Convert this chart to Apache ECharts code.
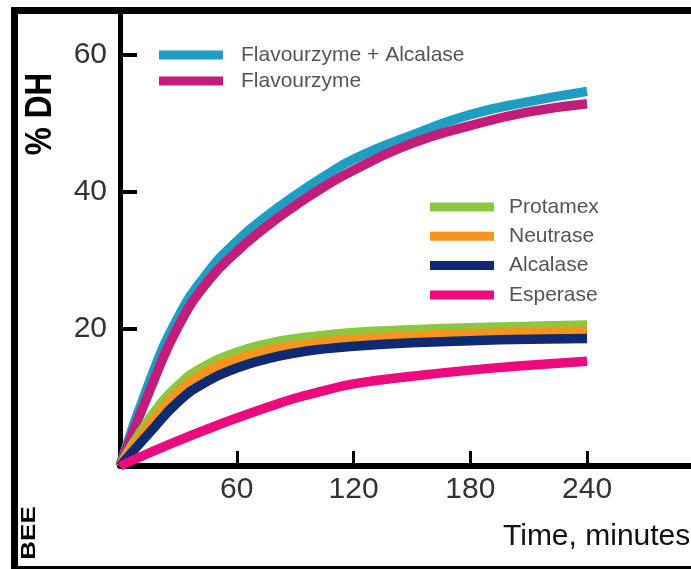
<!DOCTYPE html>
<html><head><meta charset="utf-8">
<script src="https://cdn.jsdelivr.net/npm/echarts@6/dist/echarts.min.js"></script>
<style>html,body{margin:0;padding:0;background:#fff}#c{width:691px;height:569px}</style>
</head><body><div id="c"></div>
<script>
const times = [0, 15, 30, 45, 60, 75, 90, 105, 120, 150, 180, 210, 240];
const flavAlc   = [0, 12.2, 21.8, 28.2, 32.8, 36.4, 39.5, 42.3, 44.8, 48.3, 51.3, 53.2, 54.7];
const flav      = [0, 10.8, 20.4, 26.9, 31.3, 34.9, 38.0, 40.8, 43.2, 47.1, 49.7, 51.7, 52.9];
const protamex  = [0, 6.8, 11.8, 14.8, 16.6, 17.8, 18.6, 19.1, 19.5, 19.9, 20.2, 20.4, 20.6];
const neutrase  = [0, 5.9, 10.8, 13.8, 15.6, 16.8, 17.6, 18.1, 18.5, 19.0, 19.3, 19.5, 19.7];
const alcalase  = [0, 4.8, 9.4, 12.4, 14.3, 15.6, 16.5, 17.1, 17.5, 18.0, 18.3, 18.5, 18.6];
const esperase  = [0, 1.9, 3.7, 5.4, 7.0, 8.5, 9.9, 11.0, 12.0, 13.1, 14.0, 14.7, 15.3];
const xTicks = [60, 120, 180, 240];
const yTicks = [20, 40, 60];
const names = ['Flavourzyme + Alcalase', 'Flavourzyme', 'Protamex', 'Neutrase', 'Alcalase', 'Esperase'];
const colors = ['#1f9dc2', '#c41c7b', '#8dc63f', '#f7941d', '#0f2a72', '#ed0a7c'];
const values = [flavAlc, flav, protamex, neutrase, alcalase, esperase];

const chart = echarts.init(document.getElementById('c'), null, {renderer: 'canvas'});
const series = names.map((n, i) => ({
  name: n, type: 'line', smooth: 0.5, symbol: 'none',
  data: times.map((t, j) => [t, values[i][j]]),
  lineStyle: {color: colors[i], width: 9.5, cap: 'butt'},
  itemStyle: {color: colors[i]},
  z: 2 + i
}));
chart.setOption({
  animation: false,
  backgroundColor: '#fff',
  grid: {left: 120, right: 0, top: 14, bottom: 103, containLabel: false},
  xAxis: {
    type: 'value', min: 0, max: 293.4,
    axisLine: {lineStyle: {color: '#000', width: 6}},
    axisTick: {show: true, inside: true, length: 15, lineStyle: {color: '#000', width: 3}, customValues: xTicks},
    axisLabel: {color: '#333', fontSize: 30, fontFamily: 'Liberation Sans', margin: 9, customValues: xTicks},
    splitLine: {show: false}
  },
  yAxis: {
    type: 'value', min: 0, max: 66,
    axisLine: {show: true, lineStyle: {color: '#000', width: 5}},
    axisTick: {show: true, inside: true, length: 17, lineStyle: {color: '#000', width: 4}, customValues: yTicks},
    axisLabel: {color: '#333', fontSize: 30, fontFamily: 'Liberation Sans', margin: 13, customValues: yTicks},
    splitLine: {show: false}
  },
  legend: [
    {data: names.slice(0, 2), orient: 'vertical', left: 154, top: 39, icon: 'rect', itemWidth: 64, itemHeight: 9,
     itemGap: 4, textStyle: {color: '#555', fontSize: 21, fontFamily: 'Liberation Sans', lineHeight: 22, padding: [0, 0, 0, 13]}},
    {data: names.slice(2), orient: 'vertical', left: 425, top: 191, icon: 'rect', itemWidth: 64, itemHeight: 9,
     itemGap: 7.3, textStyle: {color: '#555', fontSize: 21, fontFamily: 'Liberation Sans', lineHeight: 22, padding: [0, 0, 0, 10]}}
  ],
  graphic: [
    {type: 'rect', shape: {x: 11, y: 7, width: 680, height: 7}, style: {fill: '#000'}, z: 100},
    {type: 'rect', shape: {x: 11, y: 7, width: 7, height: 562}, style: {fill: '#000'}, z: 100},
    {type: 'rect', shape: {x: 11, y: 566, width: 680, height: 3}, style: {fill: '#000'}, z: 100},
    {type: 'text', x: 41, y: 114, rotation: Math.PI / 2, scaleX: 1.05, scaleY: 1.25,
     style: {text: '% DH', font: 'bold 30px "Liberation Sans"', fill: '#000', textAlign: 'center', textVerticalAlign: 'middle'}, z: 100},
    {type: 'text', x: 503, y: 522,
     style: {text: 'Time, minutes', font: '30px "Liberation Sans"', fill: '#111', textAlign: 'left', textVerticalAlign: 'top'}, z: 100},
    {type: 'text', x: 29, y: 533, rotation: Math.PI / 2, scaleX: 1.3, scaleY: 1.0,
     style: {text: 'BEE', font: 'bold 20px "Liberation Sans"', fill: '#000', textAlign: 'center', textVerticalAlign: 'middle'}, z: 100}
  ],
  series: series
});
</script>
</body></html>
